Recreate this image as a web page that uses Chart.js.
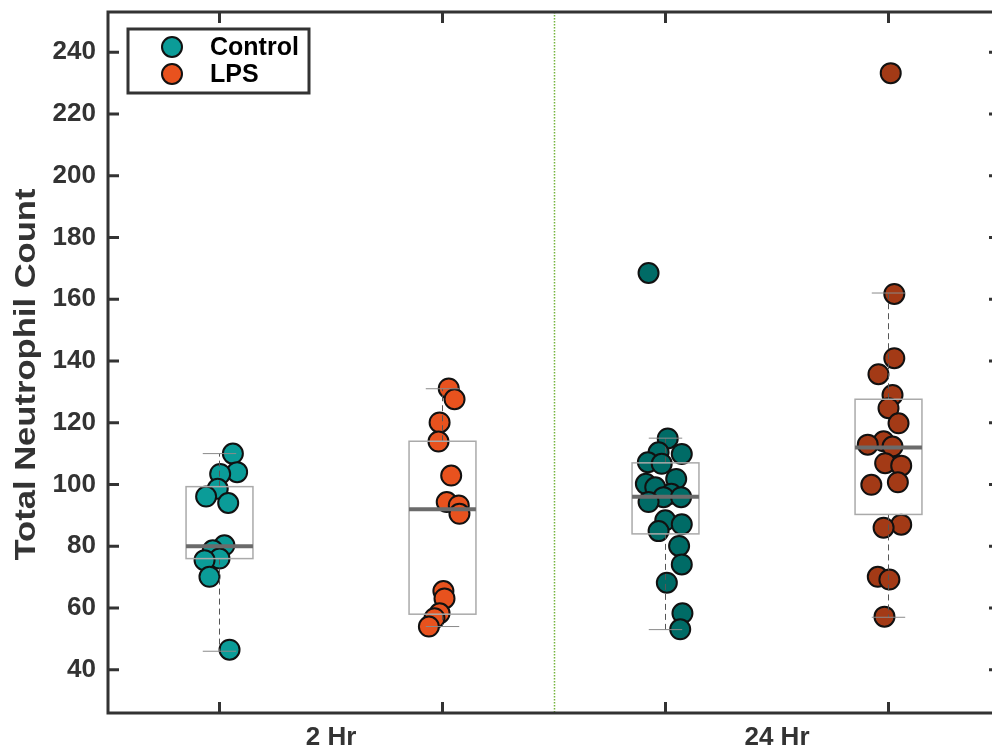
<!DOCTYPE html>
<html><head><meta charset="utf-8">
<script src="https://cdn.jsdelivr.net/npm/chart.js@4/dist/chart.umd.min.js"></script>
<style>
html,body{margin:0;padding:0;background:#fff;overflow:hidden;}
#wrap{width:1012px;height:750px;position:relative;}
</style></head><body>
<div id="wrap"><canvas id="c" width="1012" height="750"></canvas></div>
<script>
// ---- data ----
const groupNames = ['2 Hr Control', '2 Hr LPS', '24 Hr Control', '24 Hr LPS'];
const groupPos = [1, 2, 3, 4];
const timeLabels = ['2 Hr', '24 Hr'];
const timeLabelPos = [1.5, 3.5];
const yTickValues = [40, 60, 80, 100, 120, 140, 160, 180, 200, 220, 240];
const yAxisTitle = 'Total Neutrophil Count';
const seriesNames = ['Control', 'LPS'];

const ctrl2hValues = [110, 104, 103.4, 98.6, 96.1, 94, 80.3, 78.7, 76, 75.5, 70.1, 46.5];
const ctrl2hJitter = [0.060, 0.079, 0.003, -0.008, -0.060, 0.039, 0.022, -0.030, 0, -0.067, -0.045, 0.045];

const lps2hValues = [131.1, 127.6, 120.1, 113.9, 102.9, 94.3, 93.2, 90.5, 65.5, 63.1, 58.3, 56.7, 54];
const lps2hJitter = [0.028, 0.054, -0.013, -0.018, 0.039, 0.019, 0.073, 0.076, 0.004, 0.009, -0.013, -0.036, -0.061];

const ctrl24hValues = [168.5, 114.9, 110.4, 109.9, 107.2, 106.7, 101.8, 100.2, 99.1, 97, 95.9, 95.9, 94.3, 88.4, 87.1, 84.9, 80.1, 74.1, 68.2, 58.3, 53.1];
const ctrl24hJitter = [-0.076, 0.010, -0.031, 0.073, -0.079, -0.017, 0.048, -0.088, -0.046, 0.026, -0.009, 0.070, -0.076, -0.001, 0.073, -0.031, 0.061, 0.073, 0.006, 0.076, 0.066];

const lps24hValues = [233.2, 161.7, 140.9, 135.7, 129, 124.7, 119.8, 114, 112.9, 112.3, 106.9, 106.1, 100.7, 99.9, 87, 86, 70.1, 69.2, 57.2];
const lps24hJitter = [0.010, 0.026, 0.026, -0.045, 0.018, 0, 0.045, -0.022, -0.093, 0.018, -0.015, 0.057, 0.042, -0.077, 0.057, -0.022, -0.048, 0.004, -0.018];

// box-plot summaries per group
const boxLow = [46, 54, 53, 57];
const boxQ1 = [76, 58, 84, 90.3];
const boxMedian = [80, 92, 96, 112];
const boxQ3 = [99.3, 114, 107, 127.6];
const boxHigh = [110, 131, 115, 162];

// ---- styles ----
const colors = ['#0B9C98', '#E8521E', '#006B66', '#A33A16'];
const FONT = '"Liberation Sans", Arial, Helvetica, sans-serif';

function pts(values, jitter, pos) {
  return values.map((v, i) => ({ x: pos + jitter[i], y: v }));
}
const allValues = [ctrl2hValues, lps2hValues, ctrl24hValues, lps24hValues];
const allJitter = [ctrl2hJitter, lps2hJitter, ctrl24hJitter, lps24hJitter];

const datasets = groupNames.map((name, g) => ({
  label: name,
  data: pts(allValues[g], allJitter[g], groupPos[g]),
  backgroundColor: colors[g],
  borderColor: '#111',
  borderWidth: 2,
  pointRadius: 10,
  pointHoverRadius: 10,
  showLine: false
}));

const decor = {
  id: 'decor',
  beforeDatasetsDraw(chart) {
    const { ctx, chartArea: a, scales: { x } } = chart;
    ctx.save();
    const gx = Math.round(x.getPixelForValue(2.5)) + 0.5;
    ctx.strokeStyle = '#74B43C';
    ctx.lineWidth = 1.5;
    ctx.setLineDash([1.5, 1.5]);
    ctx.beginPath(); ctx.moveTo(gx, a.top); ctx.lineTo(gx, a.bottom); ctx.stroke();
    ctx.restore();
  },
  afterDatasetsDraw(chart) {
    const { ctx, chartArea: a, scales: { x, y } } = chart;
    ctx.save();
    // box plots
    groupPos.forEach((p, i) => {
      const cx = x.getPixelForValue(p);
      const hw = x.getPixelForValue(p + 0.15) - cx;
      const cw = x.getPixelForValue(p + 0.075) - cx;
      const yl = y.getPixelForValue(boxLow[i]);
      const y1 = y.getPixelForValue(boxQ1[i]);
      const ym = y.getPixelForValue(boxMedian[i]);
      const y3 = y.getPixelForValue(boxQ3[i]);
      const yh = y.getPixelForValue(boxHigh[i]);
      ctx.strokeStyle = '#555';
      ctx.lineWidth = 1;
      ctx.setLineDash([6, 4]);
      ctx.beginPath();
      ctx.moveTo(cx, y3); ctx.lineTo(cx, yh);
      ctx.moveTo(cx, y1); ctx.lineTo(cx, yl);
      ctx.stroke();
      ctx.setLineDash([]);
      ctx.strokeStyle = '#8a8a8a';
      ctx.beginPath();
      ctx.moveTo(cx - cw, yh); ctx.lineTo(cx + cw, yh);
      ctx.moveTo(cx - cw, yl); ctx.lineTo(cx + cw, yl);
      ctx.stroke();
      ctx.strokeStyle = '#aaaaaa';
      ctx.lineWidth = 1.5;
      ctx.strokeRect(cx - hw, y3, 2 * hw, y1 - y3);
      ctx.strokeStyle = '#6b6b6b';
      ctx.lineWidth = 4;
      ctx.beginPath(); ctx.moveTo(cx - hw, ym); ctx.lineTo(cx + hw, ym); ctx.stroke();
    });

    // frame
    ctx.strokeStyle = '#333';
    ctx.lineWidth = 3;
    ctx.strokeRect(a.left, a.top, a.right - a.left, a.bottom - a.top);
    ctx.beginPath();
    yTickValues.forEach(v => {
      const yy = y.getPixelForValue(v);
      ctx.moveTo(a.left, yy); ctx.lineTo(a.left + 11, yy);
      ctx.moveTo(a.right, yy); ctx.lineTo(a.right - 11, yy);
    });
    groupPos.forEach(p => {
      const xx = x.getPixelForValue(p);
      ctx.moveTo(xx, a.bottom); ctx.lineTo(xx, a.bottom - 11);
      ctx.moveTo(xx, a.top); ctx.lineTo(xx, a.top + 11);
    });
    ctx.stroke();

    // y-axis title (stretched along its length to match the reference)
    ctx.save();
    ctx.font = 'bold 29px ' + FONT;
    const tw = ctx.measureText(yAxisTitle).width;
    const target = 372;
    ctx.translate(27, (a.top + a.bottom) / 2 + 12);
    ctx.rotate(-Math.PI / 2);
    ctx.scale(target / tw, 1);
    ctx.fillStyle = '#333';
    ctx.textAlign = 'center';
    ctx.textBaseline = 'middle';
    ctx.fillText(yAxisTitle, 0, 0);
    ctx.restore();

    // legend
    const lx = 128, ly = 29, lw = 181, lh = 64;
    ctx.fillStyle = '#fff';
    ctx.fillRect(lx, ly, lw, lh);
    ctx.strokeStyle = '#333';
    ctx.lineWidth = 3;
    ctx.strokeRect(lx, ly, lw, lh);
    seriesNames.forEach((n, i) => {
      const my = ly + 18 + i * 27;
      ctx.beginPath();
      ctx.arc(lx + 44, my, 10, 0, Math.PI * 2);
      ctx.fillStyle = colors[i];
      ctx.fill();
      ctx.lineWidth = 2;
      ctx.strokeStyle = '#111';
      ctx.stroke();
      ctx.fillStyle = '#000';
      ctx.font = 'bold 25px ' + FONT;
      ctx.textAlign = 'left';
      ctx.textBaseline = 'middle';
      ctx.fillText(n, lx + 82, my + 1);
    });
    ctx.restore();
  }
};

new Chart(document.getElementById('c'), {
  type: 'scatter',
  data: { datasets },
  options: {
    responsive: false,
    animation: false,
    devicePixelRatio: 1,
    layout: { padding: { top: 10, right: 0, left: 0, bottom: 0 } },
    plugins: { legend: { display: false }, tooltip: { enabled: false } },
    scales: {
      x: {
        type: 'linear', min: 0.5, max: 4.5,
        afterBuildTicks(s) { s.ticks = timeLabelPos.map(v => ({ value: v })); },
        afterFit(s) { s.height = 37; s.paddingLeft = 0; s.paddingRight = 0; },
        ticks: {
          callback(v) { const i = timeLabelPos.indexOf(v); return i >= 0 ? timeLabels[i] : ''; },
          font: { family: FONT, weight: 'bold', size: 26 },
          color: '#333', padding: 9, maxRotation: 0, autoSkip: false
        },
        grid: { display: false, drawTicks: false },
        border: { display: false }
      },
      y: {
        type: 'linear', min: 26, max: 253,
        afterBuildTicks(s) { s.ticks = yTickValues.map(v => ({ value: v })); },
        afterFit(s) { s.width = 108; s.paddingTop = 0; s.paddingBottom = 0; },
        ticks: {
          font: { family: FONT, weight: 'bold', size: 26 },
          color: '#333', padding: 12, autoSkip: false
        },
        grid: { display: false, drawTicks: false },
        border: { display: false }
      }
    }
  },
  plugins: [decor]
});
</script>
</body></html>
